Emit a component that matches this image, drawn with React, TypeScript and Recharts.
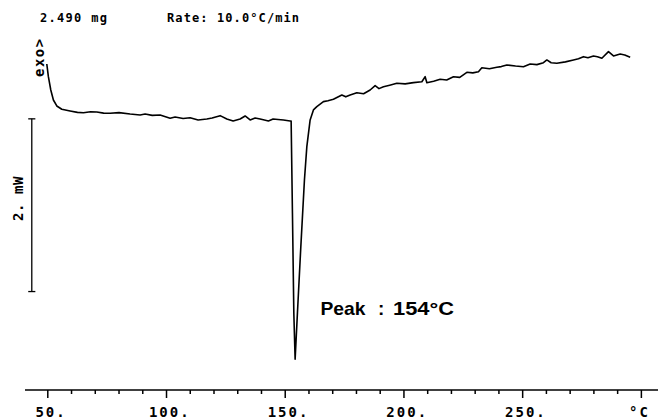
import React from 'react';
import { LineChart, Line, XAxis, YAxis, ReferenceLine } from 'recharts';

// Temperature (°C) of each sampled point of the DSC trace
const temperature = [
  49.58, 50.25, 51.26, 52.36, 53.79, 55.9, 59.39, 62.5, 65.0, 68.0, 70.64, 73.5, 76.24, 80.0,
  84.67, 88.88, 90.99, 94.0, 97.3, 101.52, 103.62, 106.99, 109.94, 113.31, 116.98, 119.2,
  122.58, 125.4, 128.06, 131.0, 133.11, 135.22, 137.32, 139.43, 142.92, 144.9, 147.0, 149.24,
  152.06, 152.49, 153.04, 153.62, 154.17, 155.14, 156.57, 158.09, 159.1, 160.49, 161.88,
  163.31, 166.09, 168.0, 170.3, 173.84, 175.5, 177.34, 180.16, 183.0, 185.76, 187.87, 189.5,
  191.37, 194.0, 197.01, 200.5, 204.0, 207.54, 208.93, 209.65, 212.5, 215.25, 218.0, 220.85,
  223.5, 226.5, 229.0, 231.38, 232.81, 236.0, 239.13, 241.0, 243.34, 247.0, 250.34, 253.16,
  256.0, 258.76, 260.19, 262.0, 264.4, 268.0, 271.4, 273.5, 275.61, 277.5, 279.82, 281.5,
  283.36, 286.14, 288.25, 291.07, 293.0, 295.28,
];

// Heat flow (mW, arbitrary offset, exo up)
const heatFlow = [
  3.775, 3.628, 3.474, 3.358, 3.289, 3.251, 3.231, 3.215, 3.211, 3.222, 3.219, 3.206, 3.204, 3.212,
  3.196, 3.185, 3.196, 3.18, 3.185, 3.147, 3.161, 3.144, 3.153, 3.127, 3.138, 3.15,
  3.177, 3.138, 3.115, 3.138, 3.173, 3.127, 3.15, 3.138, 3.115, 3.138, 3.133, 3.127,
  3.115, 3.115, 2.05, 0.892, 0.356, 0.892, 1.66, 2.432, 2.818, 3.127, 3.243,
  3.281, 3.339, 3.35, 3.367, 3.416, 3.395, 3.416, 3.443, 3.43, 3.474, 3.524, 3.49,
  3.512, 3.53, 3.552, 3.545, 3.559, 3.57, 3.628, 3.559, 3.575, 3.598, 3.59, 3.628,
  3.62, 3.679, 3.672, 3.686, 3.732, 3.72, 3.737, 3.745, 3.764, 3.752, 3.744, 3.775,
  3.768, 3.79, 3.822, 3.79, 3.783, 3.8, 3.822, 3.835, 3.86, 3.848, 3.868, 3.86,
  3.841, 3.918, 3.868, 3.891, 3.88, 3.853,
];

const xTicks = [50, 60, 70, 80, 90, 100, 110, 120, 130, 140, 150, 160, 170, 180, 190, 200, 210, 220, 230, 240, 250, 260, 270, 280, 290, 300];
const tickLabels: Record<number, string> = { 50: '50.', 100: '100.', 150: '150.', 200: '200.', 250: '250.', 300: '°C' };

// 2 mW scale bar
const scaleBarX = 43.26;
const scaleBarFrom = 1.14;
const scaleBarTo = 3.14;

const sampleMass = '2.490 mg';
const rateText = 'Rate: 10.0°C/min';
const exoText = 'exo>';
const scaleText = '2. mW';
const peakWord = 'Peak';
const peakValue = '154°C';

const data = temperature.map((t, i) => ({ t, hf: heatFlow[i] }));

const MONO = '"DejaVu Sans Mono", monospace';
const SANS = '"Liberation Sans", Arial, sans-serif';

function AxisTick(props: any) {
  const { x, y, payload } = props;
  const v = payload.value as number;
  const major = v % 50 === 0;
  const label = tickLabels[v];
  const n = label ? label.replace('.', '').length : 0;
  return (
    <g>
      <line x1={x} x2={x} y1={y} y2={y + (major ? 8 : 4)} stroke="#000" strokeWidth={1.5} />
      {label && (
        <text
          x={x - n * 5.2 - 2}
          y={y + 26.5}
          fontFamily={MONO}
          fontWeight="bold"
          fontSize={14}
          letterSpacing={2}
          fill="#000"
        >
          {label}
        </text>
      )}
    </g>
  );
}

export default function App() {
  return (
    <div style={{ position: 'absolute', left: 0, top: 0, width: 658, height: 418, background: '#fff' }}>
      <LineChart
        width={658}
        height={418}
        data={data}
        margin={{ top: 40, right: 0, bottom: 0, left: 25 }}
      >
        <XAxis
          dataKey="t"
          type="number"
          domain={[40.4, 307]}
          allowDataOverflow
          ticks={xTicks}
          interval={0}
          height={28}
          tickSize={0}
          tickMargin={0}
          tickLine={false}
          axisLine={{ stroke: '#000', strokeWidth: 1.6 }}
          tick={(p: any) => <AxisTick {...p} />}
        />
        <YAxis type="number" domain={[0, 4.053]} hide allowDataOverflow />
        <ReferenceLine
          segment={[{ x: scaleBarX, y: scaleBarFrom }, { x: scaleBarX, y: scaleBarTo }]}
          stroke="#000"
          strokeWidth={1.3}
        />
        <ReferenceLine
          segment={[{ x: scaleBarX - 1.5, y: scaleBarFrom }, { x: scaleBarX + 1.5, y: scaleBarFrom }]}
          stroke="#000"
          strokeWidth={1.3}
        />
        <ReferenceLine
          segment={[{ x: scaleBarX - 1.5, y: scaleBarTo }, { x: scaleBarX + 1.5, y: scaleBarTo }]}
          stroke="#000"
          strokeWidth={1.3}
        />
        <Line
          dataKey="hf"
          type="linear"
          stroke="#000"
          strokeWidth={1.6}
          dot={false}
          isAnimationActive={false}
          strokeLinejoin="round"
        />
      </LineChart>
      <svg
        width={658}
        height={418}
        style={{ position: 'absolute', left: 0, top: 0, pointerEvents: 'none' }}
      >
        <text x={40} y={21.5} fontFamily={MONO} fontWeight="bold" fontSize={12} letterSpacing={1.3} fill="#000">
          {sampleMass}
        </text>
        <text x={167} y={21.5} fontFamily={MONO} fontWeight="bold" fontSize={12} letterSpacing={1.1} fill="#000">
          {rateText}
        </text>
        <text
          x={0}
          y={0}
          transform="translate(43.5,77) rotate(-90)"
          fontFamily={MONO}
          fontWeight="bold"
          fontSize={14}
          letterSpacing={1.5}
          fill="#000"
        >
          {exoText}
        </text>
        <text
          x={0}
          y={0}
          transform="translate(23,221) rotate(-90)"
          fontFamily={MONO}
          fontWeight="bold"
          fontSize={14}
          letterSpacing={0.6}
          fill="#000"
        >
          {scaleText}
        </text>
        <text
          x={320.5}
          y={315}
          fontFamily={SANS}
          fontWeight="bold"
          fontSize={19}
          textLength={45}
          lengthAdjust="spacingAndGlyphs"
          fill="#000"
        >
          {peakWord}
        </text>
        <text x={378} y={315} fontFamily={SANS} fontWeight="bold" fontSize={19} fill="#000">
          :
        </text>
        <text
          x={393}
          y={315}
          fontFamily={SANS}
          fontWeight="bold"
          fontSize={19}
          textLength={61}
          lengthAdjust="spacingAndGlyphs"
          fill="#000"
        >
          {peakValue}
        </text>
      </svg>
    </div>
  );
}
